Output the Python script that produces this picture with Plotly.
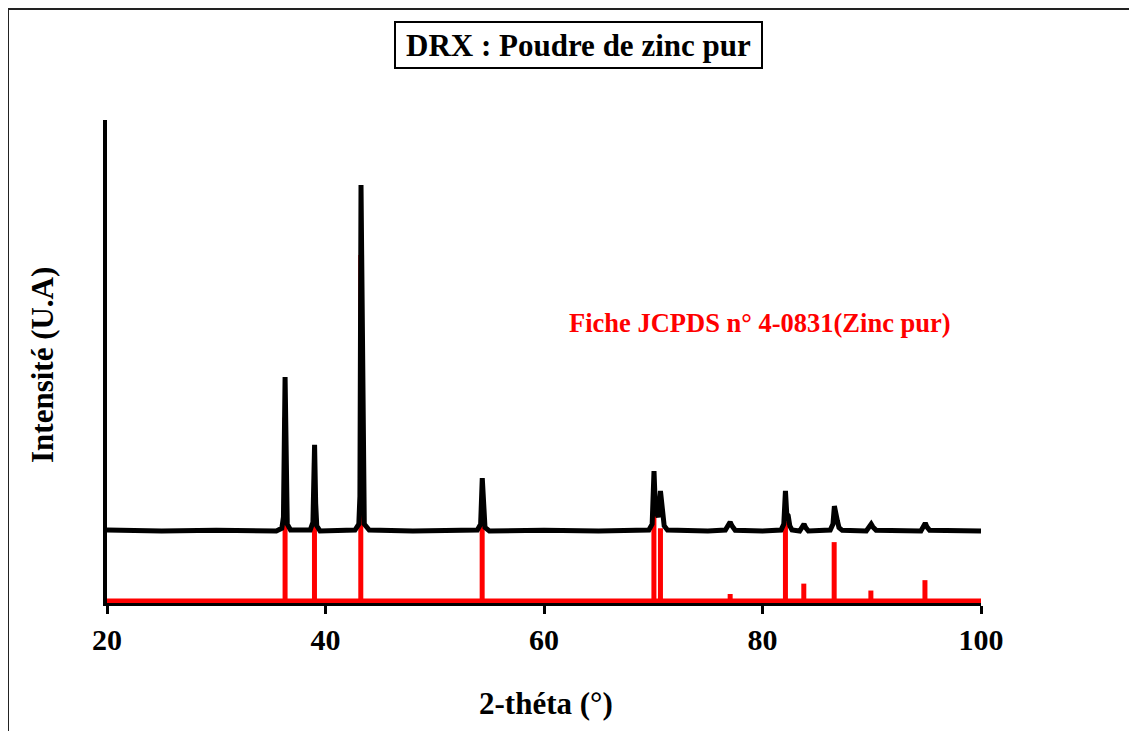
import plotly.graph_objects as go

# ---- Data ----
black_2theta = [20.0, 25.0, 30.0, 35.5, 36.0, 36.15, 36.3, 36.4, 36.5, 36.8,
                38.6, 38.85, 39.0, 39.1, 39.2, 39.5,
                42.7, 43.05, 43.15, 43.25, 43.35, 43.42, 43.55, 44.0, 48.0,
                53.9, 54.2, 54.35, 54.45, 54.6, 55.0, 60.0, 65.0,
                69.6, 69.9, 70.07, 70.2, 70.3, 70.45, 70.66, 70.8, 70.9, 71.0, 71.3,
                75.0, 76.6, 76.9, 77.04, 77.2, 77.5, 80.0,
                81.7, 81.95, 82.1, 82.22, 82.35, 82.5, 82.7,
                83.4, 83.65, 83.8, 83.95, 84.2,
                86.2, 86.45, 86.58, 86.7, 86.85, 87.0, 87.3,
                89.5, 89.8, 89.95, 90.1, 90.4,
                94.5, 94.75, 94.9, 95.05, 95.3, 100.0]
black_intensity = [0.3, 0.0, 0.2, 0.0, 0.8, 4.0, 44.5, 12.0, 2.0, 0.3,
                   0.3, 2.5, 24.9, 8.0, 1.5, 0.0,
                   0.3, 2.0, 10.0, 100.0, 54.0, 10.0, 2.0, 0.3, 0.0,
                   0.3, 2.0, 15.3, 5.0, 1.0, 0.0, 0.2, 0.0,
                   0.3, 2.0, 17.3, 6.0, 5.0, 4.0, 11.6, 6.0, 5.0, 1.5, 0.3,
                   0.0, 0.3, 1.5, 2.6, 1.5, 0.2, 0.0,
                   0.3, 2.0, 11.6, 5.0, 4.5, 1.5, 0.3,
                   0.0, 1.0, 2.0, 1.0, 0.0,
                   0.3, 2.0, 7.2, 4.0, 3.0, 1.0, 0.2,
                   0.0, 1.0, 2.0, 1.2, 0.2,
                   0.0, 1.2, 2.3, 1.2, 0.2, 0.0]

# JCPDS card 4-0831 (Zinc) reference lines
jcpds_2theta = [36.30, 38.99, 43.23, 54.34, 70.06, 70.66, 77.04, 82.10, 83.78, 86.56, 89.92, 94.87]
jcpds_intensity = [53, 40, 100, 28, 25, 21, 2, 23, 5, 17, 3, 6]

x_ticks = [20, 40, 60, 80, 100]

# ---- Build ----
offset = 20.2
black_y = [v + offset for v in black_intensity]

red_x, red_y = [20, 100, None], [0, 0, None]
for t, i in zip(jcpds_2theta, jcpds_intensity):
    red_x += [t, t, None]
    red_y += [0, i, None]

font_family = "Liberation Serif"

fig = go.Figure()
fig.add_trace(go.Scatter(x=red_x, y=red_y, mode="lines",
                         line=dict(color="#ff0000", width=5),
                         hoverinfo="skip", showlegend=False))
fig.add_trace(go.Scatter(x=black_2theta, y=black_y, mode="lines",
                         line=dict(color="black", width=5),
                         showlegend=False))

# page body adds an 8px margin: work in screen pixels, shift by 8
S = 8
W, H = 1137 - S, 731 - S
L, R, T, B = 107 - S, 981 - S, 120 - S, 603 - S

def px(x):
    return (x - S - L) / (R - L)

def py(y):
    return (B - (y - S)) / (B - T)

fig.update_layout(
    width=W, height=H,
    margin=dict(l=L, r=W - R, t=T, b=H - B),
    paper_bgcolor="white", plot_bgcolor="white",
    font=dict(family=font_family, color="black"),
    xaxis=dict(range=[20, 100], tickvals=x_ticks, ticks="outside", ticklen=8,
               tickwidth=3, tickcolor="black", showline=True, linecolor="black",
               linewidth=3, showgrid=False, zeroline=False,
               tickfont=dict(family=font_family, size=30, color="black", weight="bold"),
               ticklabelstandoff=0),
    yaxis=dict(range=[-0.6, 139.0], showticklabels=False, ticks="",
               showline=True, linecolor="black", linewidth=4,
               showgrid=False, zeroline=False),
    annotations=[
        dict(text="<b>DRX : Poudre de zinc pur</b>", x=px(578), y=py(45),
             xref="paper", yref="paper", showarrow=False,
             font=dict(family=font_family, size=31, color="black"),
             bordercolor="black", borderwidth=2, bgcolor="white",
             width=363, height=42, xanchor="center", yanchor="middle"),
        dict(text="<b>Fiche JCPDS n° 4-0831(Zinc pur)</b>", x=px(760), y=py(323),
             xref="paper", yref="paper", showarrow=False,
             font=dict(family=font_family, size=26.5, color="#ff0000"),
             xanchor="center", yanchor="middle"),
        dict(text="<b>Intensité (U.A)</b>", x=px(42), y=py(365),
             xref="paper", yref="paper", showarrow=False, textangle=-90,
             font=dict(family=font_family, size=31, color="black"),
             xanchor="center", yanchor="middle"),
        dict(text="<b>2-théta (°)</b>", x=px(546), y=py(703),
             xref="paper", yref="paper", showarrow=False,
             font=dict(family=font_family, size=31, color="black"),
             xanchor="center", yanchor="middle"),
    ],
    shapes=[
        dict(type="line", xref="paper", yref="paper", x0=px(8), x1=px(1140),
             y0=py(9), y1=py(9), line=dict(color="#222222", width=2)),
        dict(type="line", xref="paper", yref="paper", x0=px(8), x1=px(8),
             y0=py(9), y1=py(735), line=dict(color="#222222", width=2)),
    ],
)

fig.write_html("out.html")
